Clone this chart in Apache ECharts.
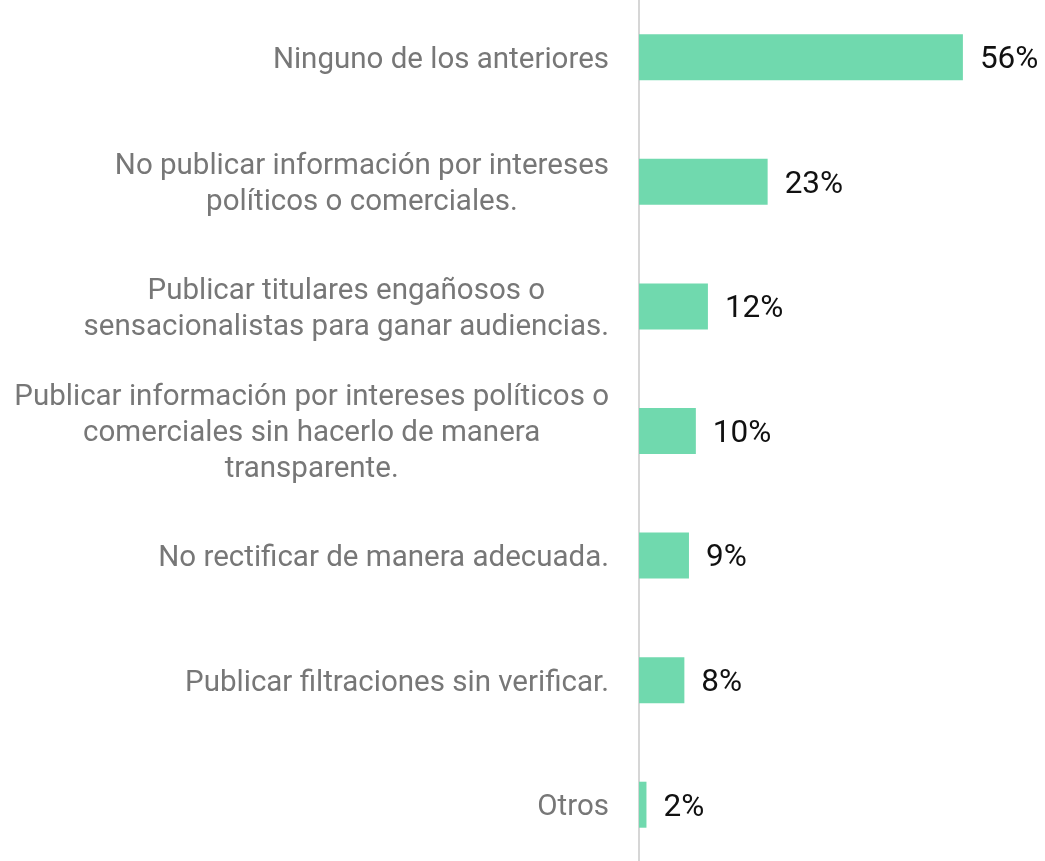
<!DOCTYPE html>
<html>
<head>
<meta charset="utf-8">
<title>Prácticas</title>
<script src="https://cdn.jsdelivr.net/npm/echarts@6/dist/echarts.min.js"></script>
<style>
  html, body { margin: 0; padding: 0; background: #fff; }
  #chart { width: 1045px; height: 861px; }
</style>
</head>
<body>
<div id="chart"></div>
<script>
// categorias (de arriba a abajo)
var categories = [
  'Ninguno de los anteriores',
  'No publicar información por intereses\npolíticos o comerciales.',
  'Publicar titulares engañosos o\nsensacionalistas para ganar audiencias.',
  'Publicar información por intereses políticos o\ncomerciales sin hacerlo de manera\ntransparente.',
  'No rectificar de manera adecuada.',
  'Publicar filtraciones sin verificar.',
  'Otros'
];
// valores estimados del largo de las barras (%)
var values = [56.4, 22.4, 12.0, 9.9, 8.7, 7.9, 1.3];
// etiquetas que se muestran
var pctLabels = ['56%', '23%', '12%', '10%', '9%', '8%', '2%'];

var myChart = echarts.init(document.getElementById('chart'));
var option = {
  backgroundColor: '#fff',
  animation: false,
  grid: {
    left: 639,
    right: 4,
    top: -5,
    bottom: -6,
    outerBoundsMode: 'none'
  },
  xAxis: {
    type: 'value',
    min: 0,
    max: 70,
    show: false
  },
  yAxis: {
    type: 'category',
    inverse: true,
    data: categories,
    axisLine: { show: true, lineStyle: { color: '#d6d6d6', width: 2 } },
    axisTick: { show: false },
    axisLabel: {
      margin: 30,
      padding: [6, 0, 0, 0],
      formatter: function (v) { return '{c|' + v + '}'; },
      rich: {
        c: {
          align: 'center',
          fontFamily: 'Roboto',
          fontSize: 29.5,
          lineHeight: 36,
          color: '#777777'
        }
      }
    }
  },
  series: [
    {
      type: 'bar',
      data: values,
      barWidth: 46,
      itemStyle: { color: '#70d9ae' },
      label: {
        show: true,
        position: 'right',
        distance: 17,
        offset: [0, 3],
        fontFamily: 'Roboto',
        fontSize: 31.5,
        color: '#111',
        formatter: function (p) { return pctLabels[p.dataIndex]; }
      }
    }
  ]
};
myChart.setOption(option);
</script>
</body>
</html>
